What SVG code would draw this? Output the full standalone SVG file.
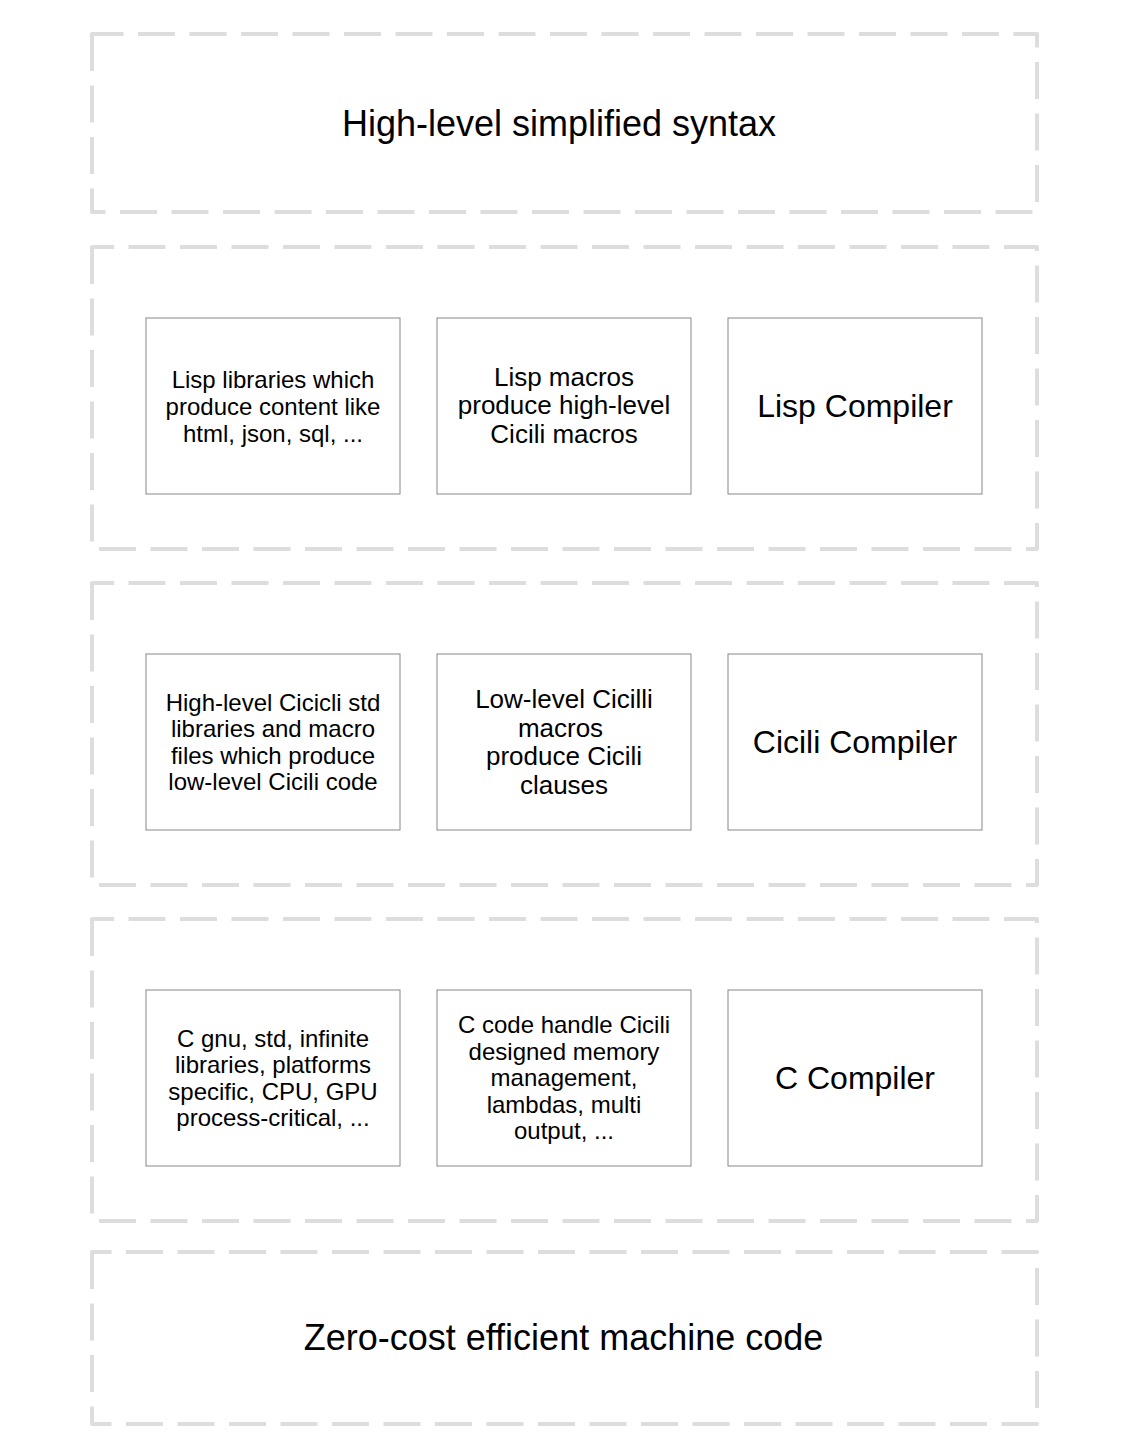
<svg xmlns="http://www.w3.org/2000/svg" width="1122" height="1452" viewBox="0 0 1122 1452">
<style>
.layer{fill:none;stroke:#dddddd;stroke-width:4;stroke-dasharray:37 14.5;stroke-linejoin:round}
.node{fill:#ffffff;stroke:#888888;stroke-width:1}
text{font-family:"Liberation Sans",Arial,sans-serif;fill:#000000;text-anchor:middle}
.t36{font-size:36px}
.t32{font-size:32px}
.t26{font-size:26px}
.t24{font-size:24px}
</style>
<rect width="1122" height="1452" fill="#ffffff"/>
<g id="layer-syntax">
<path class="layer" d="M92,34 L92,212 L1037,212 L1037,34 Z"/>
<text class="t36" x="559" y="135.5">High-level simplified syntax</text>
</g>
<g id="layer-lisp">
<path class="layer" d="M92,247 L92,549 L1037,549 L1037,247 Z"/>
</g>
<g id="layer-cicili">
<path class="layer" d="M92,583 L92,885 L1037,885 L1037,583 Z"/>
</g>
<g id="layer-c">
<path class="layer" d="M92,919 L92,1221 L1037,1221 L1037,919 Z"/>
</g>
<g id="layer-machine">
<path class="layer" d="M92,1252 L92,1424 L1037,1424 L1037,1252 Z"/>
<text class="t36" x="563.5" y="1350">Zero-cost efficient machine code</text>
</g>
<g id="lisp-libraries">
<rect class="node" x="146" y="318" width="254" height="176"/>
<text class="t24" x="273"><tspan x="273" y="387.5">Lisp libraries which</tspan><tspan x="273" y="414.5">produce content like</tspan><tspan x="273" y="441.5">html, json, sql, ...</tspan></text>
</g>
<g id="lisp-macros">
<rect class="node" x="437" y="318" width="254" height="176"/>
<text class="t26" x="564"><tspan x="564" y="385.5">Lisp macros</tspan><tspan x="564" y="414">produce high-level</tspan><tspan x="564" y="442.5">Cicili macros</tspan></text>
</g>
<g id="lisp-compiler">
<rect class="node" x="728" y="318" width="254" height="176"/>
<text class="t32" x="855" y="417">Lisp Compiler</text>
</g>
<g id="cicili-libraries">
<rect class="node" x="146" y="654" width="254" height="176"/>
<text class="t24" x="273"><tspan x="273" y="710.5">High-level Cicicli std</tspan><tspan x="273" y="737">libraries and macro</tspan><tspan x="273" y="763.5">files which produce</tspan><tspan x="273" y="790">low-level Cicili code</tspan></text>
</g>
<g id="cicili-macros">
<rect class="node" x="437" y="654" width="254" height="176"/>
<text class="t26" x="564"><tspan x="564" y="708">Low-level Cicilli</tspan><tspan x="560.5" y="736.5">macros</tspan><tspan x="564" y="765">produce Cicili</tspan><tspan x="564" y="793.5">clauses</tspan></text>
</g>
<g id="cicili-compiler">
<rect class="node" x="728" y="654" width="254" height="176"/>
<text class="t32" x="855" y="753">Cicili Compiler</text>
</g>
<g id="c-libraries">
<rect class="node" x="146" y="990" width="254" height="176"/>
<text class="t24" x="273"><tspan x="273" y="1046.5">C gnu, std, infinite</tspan><tspan x="273" y="1073">libraries, platforms</tspan><tspan x="273" y="1099.5">specific, CPU, GPU</tspan><tspan x="273" y="1126">process-critical, ...</tspan></text>
</g>
<g id="c-code">
<rect class="node" x="437" y="990" width="254" height="176"/>
<text class="t24" x="564"><tspan x="564" y="1033">C code handle Cicili</tspan><tspan x="564" y="1059.5">designed memory</tspan><tspan x="564" y="1086">management,</tspan><tspan x="564" y="1112.5">lambdas, multi</tspan><tspan x="564" y="1139">output, ...</tspan></text>
</g>
<g id="c-compiler">
<rect class="node" x="728" y="990" width="254" height="176"/>
<text class="t32" x="855" y="1089">C Compiler</text>
</g>
<g id="connectors"></g>
</svg>
